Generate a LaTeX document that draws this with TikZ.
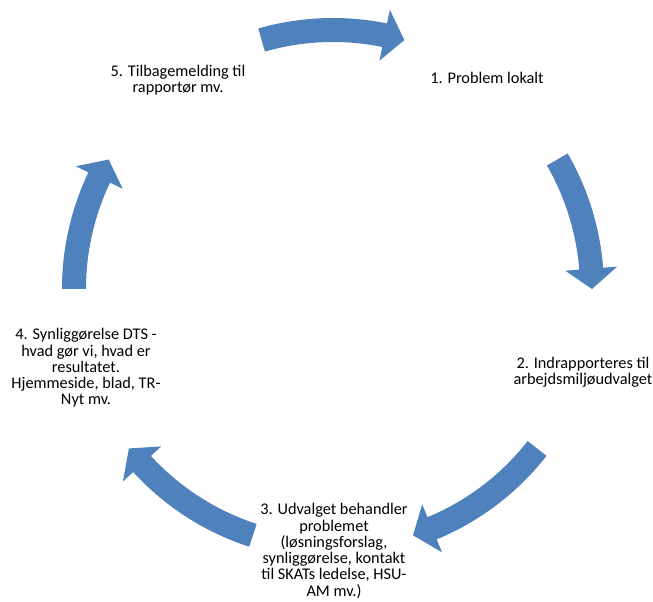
\documentclass[tikz,border=0pt]{standalone}
\usepackage{fontspec}
\setmainfont{Carlito}
\definecolor{cycleblue}{RGB}{79,129,189}
\tikzset{
  steptext/.style={align=center, font=\fontsize{16.3}{16.3}\selectfont, inner sep=0pt},
  arrowfill/.style={fill=cycleblue}
}
\begin{document}
\begin{tikzpicture}[x=1pt,y=1pt]
\def\rM{259}
% one curved arrow of the cycle: start angle, tip angle
\def\cyclearrow#1#2{
  \pgfmathsetmacro\base{#2+4.5}
  \fill[arrowfill] (#1:\rM+12) arc[start angle=#1, end angle=\base, radius=\rM+12]
    -- (\base:\rM+26) -- (#2:\rM) -- (\base:\rM-26) -- (\base:\rM-12)
    arc[start angle=\base, end angle=#1, radius=\rM-12] -- cycle;
}
    \useasboundingbox (-333,-313) rectangle (320,289);
    \cyclearrow{106}{74}
    \cyclearrow{30}{0}
    \cyclearrow{-38}{-72}
    \cyclearrow{-108}{-142}
    \cyclearrow{180}{150}
    \node[steptext] (prob) at (154,211) {1. Problem lokalt};
    \node[steptext] (indr) at (250,-83) {2. Indrapporteres til\\arbejdsmiljøudvalget};
    \node[steptext] (udv) at (1,-262) {3. Udvalget behandler\\problemet\\(løsningsforslag,\\synliggørelse, kontakt\\til SKATs ledelse, HSU-\\AM mv.)};
    \node[steptext] (synl) at (-247,-79) {4. Synliggørelse DTS -\\hvad gør vi, hvad er\\resultatet.\\Hjemmeside, blad, TR-\\Nyt mv.};
    \node[steptext] (tilb) at (-155,209) {5. Tilbagemelding til\\rapportør mv.};
\end{tikzpicture}
\end{document}
